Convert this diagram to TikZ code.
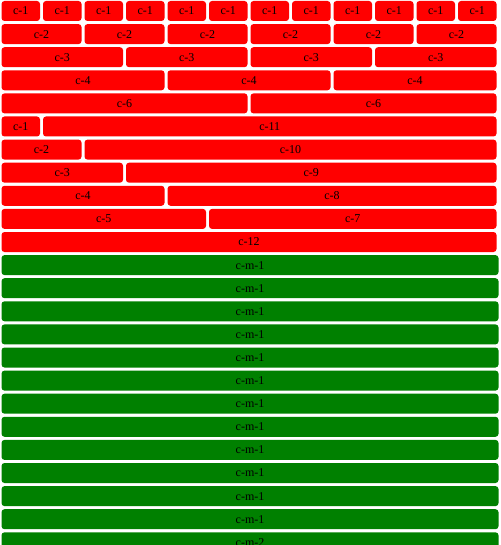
\documentclass[tikz,border=0pt]{standalone}
\usepackage{fontspec}
\setmainfont{Liberation Serif}
\usepackage{tikz}
\tikzset{
  cell/.style={inner sep=0pt, minimum height=20pt, rounded corners=3pt,
    font=\fontsize{12}{14}\selectfont, text=black},
  redcell/.style={cell, fill=red},
  greencell/.style={cell, fill={rgb,255:red,0;green,128;blue,0}, minimum width=497pt},
}

\begin{document}
\begin{tikzpicture}[x=1pt, y=-1pt]
\useasboundingbox[fill=white] (0,0) rectangle (500,545);
\clip (0,0) rectangle (500,545);
% even rows: 12 columns split in equal cells
\foreach \s/\r in {1/1, 2/2, 3/3, 4/4, 6/5} {
  \pgfmathtruncatemacro{\n}{12/\s}
  \foreach \j in {1,...,\n} {
    \node[redcell, minimum width={\s*41.5-3}] (c\r-\j)
      at ({(2*(\j-1)*\s+\s)*41.5/2}, {11+(\r-1)*23.1}) {c-\s};
  }
}
% uneven rows: one short cell and one long cell
\foreach \a/\r in {1/6, 2/7, 3/8, 4/9, 5/10} {
  \pgfmathtruncatemacro{\b}{12-\a}
  \node[redcell, minimum width={\a*41.5-3}] (c\r-1)
    at ({\a*41.5/2}, {11+(\r-1)*23.1}) {c-\a};
  \node[redcell, minimum width={\b*41.5-3}] (c\r-2)
    at ({(2*\a+\b)*41.5/2}, {11+(\r-1)*23.1}) {c-\b};
}
\node[redcell, minimum width=495pt] (c11-1) at (249, {11+10*23.1}) {c-12};
% green full rows
\foreach \r in {12,...,23} {
  \node[greencell] (m\r) at (250, {11+(\r-1)*23.1}) {c-m-1};
}
\node[greencell] (m24) at (250, {11+23*23.1}) {c-m-2};
\end{tikzpicture}
\end{document}
